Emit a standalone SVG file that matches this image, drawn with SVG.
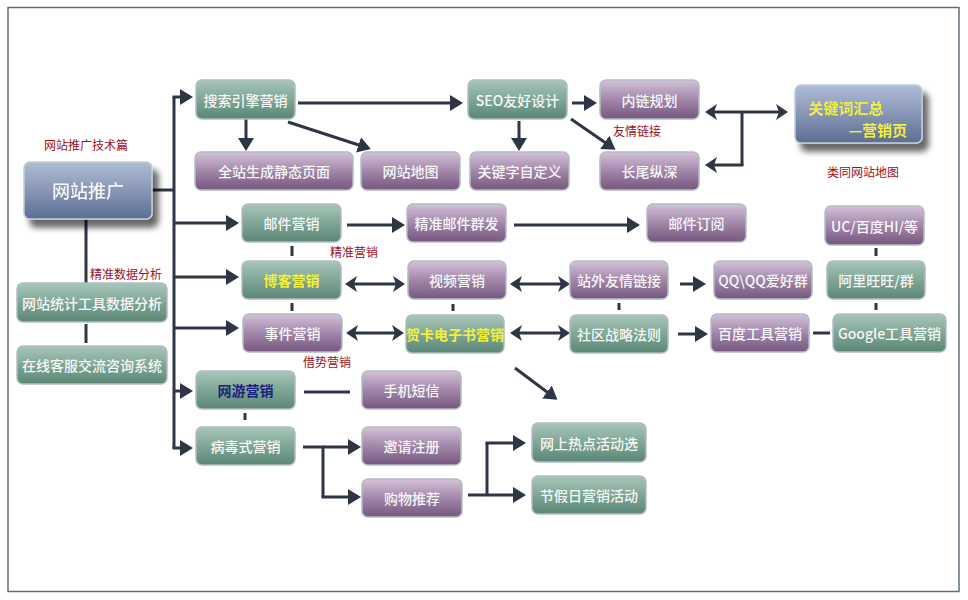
<svg xmlns="http://www.w3.org/2000/svg" width="968" height="600" viewBox="0 0 968 600">
<defs>
<linearGradient id="gG" x1="0" y1="0" x2="0" y2="1"><stop offset="0" stop-color="#a8c6b9"/><stop offset="0.5" stop-color="#7fa696"/><stop offset="1" stop-color="#5a8675"/></linearGradient>
<linearGradient id="gP" x1="0" y1="0" x2="0" y2="1"><stop offset="0" stop-color="#d3c2d8"/><stop offset="0.5" stop-color="#a287aa"/><stop offset="1" stop-color="#76567f"/></linearGradient>
<linearGradient id="gB" x1="0" y1="0" x2="0" y2="1"><stop offset="0" stop-color="#b0bdd4"/><stop offset="0.5" stop-color="#8796b5"/><stop offset="1" stop-color="#5c6e93"/></linearGradient>
<filter id="sh" x="-20%" y="-20%" width="150%" height="170%"><feGaussianBlur in="SourceAlpha" stdDeviation="3"/><feOffset dx="6" dy="8"/><feComponentTransfer><feFuncA type="linear" slope="0.6"/></feComponentTransfer><feMerge><feMergeNode/><feMergeNode in="SourceGraphic"/></feMerge></filter>
<marker id="ah" markerUnits="userSpaceOnUse" markerWidth="14" markerHeight="16" refX="10" refY="8" orient="auto-start-reverse"><path d="M0,0 L13,8 L0,16 z" fill="#2e3545"/></marker>
<marker id="ad" markerUnits="userSpaceOnUse" markerWidth="14" markerHeight="16" refX="9" refY="8" orient="auto-start-reverse"><path d="M0,0 L12,8 L0,16 L3,8 z" fill="#2e3545"/></marker>
<style>
.g{fill:url(#gG);stroke:#b3bcc4;stroke-width:1.5}
.p{fill:url(#gP);stroke:#b3bcc4;stroke-width:1.5}
.b{fill:url(#gB);stroke:#c4ccd6;stroke-width:1.5}
.t{font-family:"Noto Sans CJK SC","Liberation Sans",sans-serif;font-size:14px;fill:#f6f6f6;text-anchor:middle;dominant-baseline:central;font-weight:500}
.y{fill:#f2f03c;font-weight:bold}
.n{fill:#1a237e;font-weight:bold}
.r{font-family:"Noto Sans CJK SC","Liberation Sans",sans-serif;font-size:12px;fill:#9e1018;text-anchor:middle;dominant-baseline:central}
.c line,.c path{stroke:#2e3545;stroke-width:3;fill:none}
</style>
</defs>
<rect x="0" y="0" width="968" height="600" fill="#ffffff"/>
<rect x="8" y="7.5" width="951" height="584" fill="none" stroke="#5f6f7c" stroke-width="1.5"/>

<g class="c" id="connectors">
<line x1="174" y1="97" x2="174" y2="448"/>
<line x1="152" y1="190" x2="174" y2="190"/>
<line x1="172.5" y1="97" x2="190" y2="97" marker-end="url(#ah)"/>
<line x1="174" y1="223" x2="236" y2="223" marker-end="url(#ah)"/>
<line x1="174" y1="277" x2="236" y2="277" marker-end="url(#ah)"/>
<line x1="174" y1="328" x2="236" y2="328" marker-end="url(#ah)"/>
<line x1="174" y1="391" x2="190" y2="391" marker-end="url(#ah)"/>
<line x1="172.5" y1="448" x2="190" y2="448" marker-end="url(#ah)"/>
<line x1="86" y1="219" x2="86" y2="283"/>
<line x1="86" y1="324" x2="86" y2="343"/>
<line x1="246" y1="119" x2="246" y2="148" marker-end="url(#ah)"/>
<line x1="298" y1="103" x2="460" y2="103" marker-end="url(#ah)"/>
<line x1="288" y1="122" x2="368" y2="148" marker-end="url(#ah)"/>
<line x1="519" y1="121" x2="519" y2="148" marker-end="url(#ah)"/>
<line x1="572" y1="103" x2="594" y2="103" marker-end="url(#ah)"/>
<line x1="571" y1="119" x2="613" y2="148" marker-end="url(#ah)"/>
<line x1="708" y1="112" x2="785" y2="112" marker-start="url(#ad)" marker-end="url(#ad)"/>
<line x1="742" y1="112" x2="742" y2="165"/>
<path d="M743.5,165 L708,165" marker-end="url(#ad)"/>
<line x1="347" y1="225" x2="402" y2="225" marker-end="url(#ah)"/>
<line x1="514" y1="225" x2="637" y2="225" marker-end="url(#ah)"/>
<line x1="292" y1="246" x2="292" y2="256"/>
<line x1="292" y1="303" x2="292" y2="311"/>
<line x1="453" y1="304" x2="453" y2="311"/>
<line x1="619" y1="303" x2="619" y2="310"/>
<line x1="876" y1="248" x2="876" y2="256"/>
<line x1="876" y1="303" x2="876" y2="310"/>
<line x1="245" y1="413" x2="245" y2="420"/>
<line x1="348" y1="284" x2="402" y2="284" marker-start="url(#ad)" marker-end="url(#ad)"/>
<line x1="513" y1="284" x2="567" y2="284" marker-start="url(#ad)" marker-end="url(#ad)"/>
<line x1="349" y1="333" x2="401" y2="333" marker-start="url(#ad)" marker-end="url(#ad)"/>
<line x1="513" y1="333" x2="567" y2="333" marker-start="url(#ad)" marker-end="url(#ad)"/>
<line x1="680" y1="284" x2="703" y2="284" marker-end="url(#ah)"/>
<line x1="678" y1="334" x2="705" y2="334" marker-end="url(#ah)"/>
<line x1="813" y1="333" x2="830" y2="333"/>
<line x1="515" y1="368" x2="555" y2="398" marker-end="url(#ah)"/>
<line x1="304" y1="392" x2="350" y2="392"/>
<path d="M303,447 L323,447 L323,497"/>
<line x1="323" y1="447" x2="358" y2="447" marker-end="url(#ah)"/>
<line x1="321.5" y1="497" x2="358" y2="497" marker-end="url(#ah)"/>
<line x1="468" y1="495" x2="487" y2="495"/>
<line x1="487" y1="443" x2="487" y2="495"/>
<line x1="485.5" y1="443" x2="523" y2="443" marker-end="url(#ah)"/>
<line x1="487" y1="495" x2="523" y2="495" marker-end="url(#ah)"/>
</g>

<g id="n-wztg" filter="url(#sh)"><rect class="b" x="24" y="162" width="128" height="57" rx="6"/><text class="t" x="88" y="190" style="font-size:18px">网站推广</text></g>
<g id="n-gjc" filter="url(#sh)"><rect class="b" x="795" y="85" width="127" height="58" rx="6"/><text class="t y" x="846" y="107" style="font-size:15px">关键词汇总</text><text class="t y" x="878" y="129" style="font-size:15px">—营销页</text></g>

<g id="n-ss"><rect class="g" x="196" y="80" width="99" height="39" rx="6"/><text class="t" x="245.5" y="99.5">搜索引擎营销</text></g>
<g id="n-qz"><rect class="p" x="195" y="152" width="158" height="38" rx="6"/><text class="t" x="274" y="171">全站生成静态页面</text></g>
<g id="n-wzdt"><rect class="p" x="361" y="152" width="99" height="38" rx="6"/><text class="t" x="410.5" y="171">网站地图</text></g>
<g id="n-seo"><rect class="g" x="468" y="80" width="99" height="39" rx="6"/><text class="t" x="517.5" y="99.5">SEO友好设计</text></g>
<g id="n-gjz"><rect class="p" x="470" y="152" width="99" height="38" rx="6"/><text class="t" x="519.5" y="171">关键字自定义</text></g>
<g id="n-nl"><rect class="p" x="600" y="80" width="99" height="39" rx="6"/><text class="t" x="649.5" y="99.5">内链规划</text></g>
<g id="n-cw"><rect class="p" x="600" y="152" width="99" height="38" rx="6"/><text class="t" x="649.5" y="171">长尾纵深</text></g>

<g id="n-yj"><rect class="g" x="242" y="204" width="99" height="38" rx="6"/><text class="t" x="291.5" y="223">邮件营销</text></g>
<g id="n-jzyj"><rect class="p" x="407" y="204" width="99" height="38" rx="6"/><text class="t" x="456.5" y="223">精准邮件群发</text></g>
<g id="n-yjdy"><rect class="p" x="647" y="204" width="99" height="38" rx="6"/><text class="t" x="696.5" y="223">邮件订阅</text></g>
<g id="n-uc"><rect class="p" x="825" y="206" width="99" height="39" rx="6"/><text class="t" x="874.5" y="225.5">UC/百度HI/等</text></g>

<g id="n-bk"><rect class="g" x="242" y="261" width="99" height="38" rx="6"/><text class="t y" x="291.5" y="280">博客营销</text></g>
<g id="n-sp"><rect class="p" x="408" y="261" width="98" height="38" rx="6"/><text class="t" x="457" y="280">视频营销</text></g>
<g id="n-zw"><rect class="p" x="570" y="261" width="98" height="38" rx="6"/><text class="t" x="619" y="280">站外友情链接</text></g>
<g id="n-qq"><rect class="p" x="714" y="261" width="98" height="38" rx="6"/><text class="t" x="763" y="280">QQ\QQ爱好群</text></g>
<g id="n-al"><rect class="g" x="827" y="261" width="98" height="38" rx="6"/><text class="t" x="876" y="280">阿里旺旺/群</text></g>

<g id="n-sj"><rect class="p" x="243" y="314" width="99" height="38" rx="6"/><text class="t" x="292.5" y="333">事件营销</text></g>
<g id="n-hk"><rect class="g" x="406" y="315" width="98" height="38" rx="6"/><text class="t y" x="455" y="334">贺卡电子书营销</text></g>
<g id="n-sq"><rect class="g" x="570" y="315" width="98" height="38" rx="6"/><text class="t" x="619" y="334">社区战略法则</text></g>
<g id="n-bd"><rect class="p" x="711" y="314" width="98" height="38" rx="6"/><text class="t" x="760" y="333">百度工具营销</text></g>
<g id="n-gg"><rect class="g" x="833" y="314" width="113" height="38" rx="6"/><text class="t" x="889.5" y="333">Google工具营销</text></g>

<g id="n-tj"><rect class="g" x="17" y="283" width="150" height="39" rx="6"/><text class="t" x="92" y="302.5">网站统计工具数据分析</text></g>
<g id="n-zx"><rect class="g" x="17" y="346" width="150" height="38" rx="6"/><text class="t" x="92" y="365">在线客服交流咨询系统</text></g>

<g id="n-wy"><rect class="g" x="196" y="371" width="99" height="38" rx="6"/><text class="t n" x="245.5" y="390">网游营销</text></g>
<g id="n-sjdx"><rect class="p" x="362" y="371" width="99" height="38" rx="6"/><text class="t" x="411.5" y="390">手机短信</text></g>
<g id="n-bds"><rect class="g" x="196" y="427" width="99" height="38" rx="6"/><text class="t" x="245.5" y="446">病毒式营销</text></g>
<g id="n-yq"><rect class="p" x="362" y="427" width="99" height="38" rx="6"/><text class="t" x="411.5" y="446">邀请注册</text></g>
<g id="n-gw"><rect class="p" x="362" y="479" width="100" height="38" rx="6"/><text class="t" x="412" y="498">购物推荐</text></g>
<g id="n-rd"><rect class="g" x="532" y="423" width="114" height="39" rx="6"/><text class="t" x="589" y="442.5">网上热点活动选</text></g>
<g id="n-jjr"><rect class="g" x="532" y="476" width="114" height="38" rx="6"/><text class="t" x="589" y="495">节假日营销活动</text></g>

<g id="labels">
<text class="r" x="86" y="144">网站推广技术篇</text>
<text class="r" x="637" y="130">友情链接</text>
<text class="r" x="863" y="171">类同网站地图</text>
<text class="r" x="354" y="251">精准营销</text>
<text class="r" x="126" y="273">精准数据分析</text>
<text class="r" x="327" y="361">借势营销</text>
</g>
</svg>
